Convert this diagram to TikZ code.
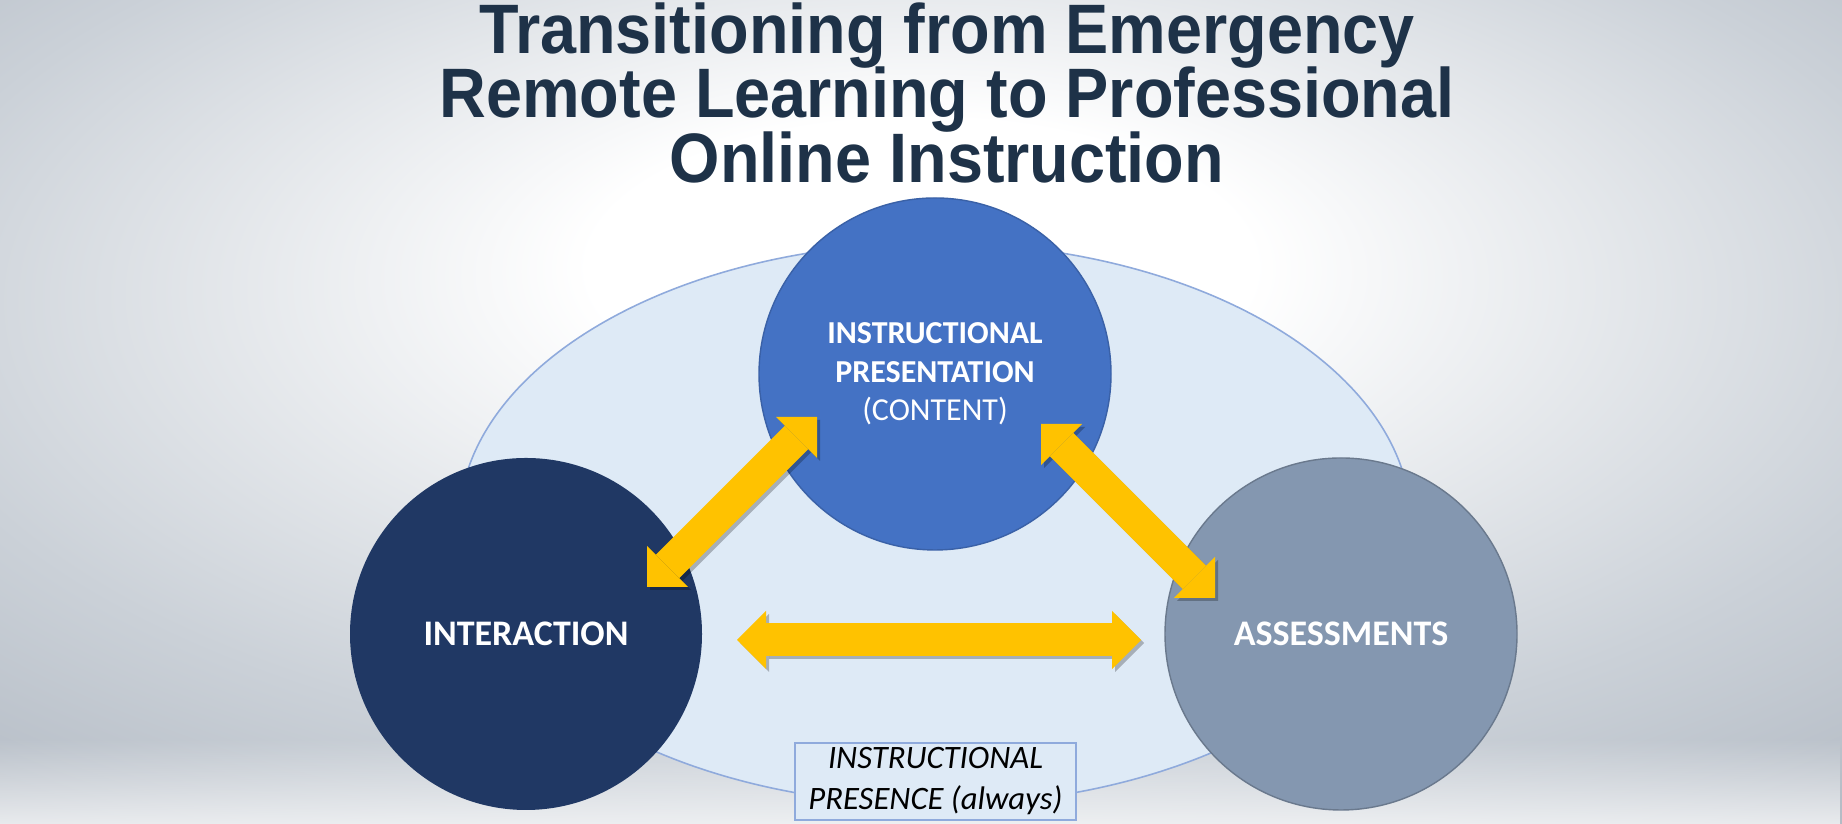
\documentclass[tikz,border=0pt]{standalone}
\usepackage{fontspec}
\setmainfont{Carlito}
\newfontfamily\titlefont{Liberation Sans}
\usetikzlibrary{arrows.meta,fadings}

\definecolor{titleblue}{RGB}{30,50,72}
\definecolor{bgmid}{RGB}{203,209,216}
\definecolor{bgedge}{RGB}{156,165,177}
\definecolor{ovalfill}{RGB}{222,234,246}
\definecolor{ovalline}{RGB}{143,170,220}
\definecolor{presblue}{RGB}{68,114,196}
\definecolor{interblue}{RGB}{32,56,100}
\definecolor{assessgray}{RGB}{132,151,176}
\definecolor{arrowgold}{RGB}{255,194,0}

\newcommand\tightlines{\lineskiplimit=-50pt\relax}

\pgfdeclareradialshading{backdrop}{\pgfpoint{0bp}{10bp}}{color(0bp)=(white); color(9bp)=(white); color(28bp)=(bgmid); color(50bp)=(bgedge); color(75bp)=(bgedge)}

\begin{document}
\begin{tikzpicture}[
	topic/.style={circle, minimum size=3.52cm, inner sep=0pt, text=white, align=center, font=\fontsize{10.24pt}{12pt}\selectfont\bfseries},
	goldarrow/.style={line width=0.33cm, arrowgold, {Triangle[width=0.58cm,length=0.29cm,line width=0pt]}-{Triangle[width=0.58cm,length=0.29cm,line width=0pt]}},
	goldshadow/.style={goldarrow, black, opacity=0.25, transform canvas={shift={(0.03,-0.03)}}}
	]
	\useasboundingbox (0,0) rectangle (18.42,8.24);
	\shade[shading=backdrop] (0,0) rectangle (18.42,8.24);
	\fill[white, opacity=0.7, path fading=north] (0,0) rectangle (18.42,0.85);
	
	\draw[ovalline, fill=ovalfill, line width=0.45pt] (9.35,3.00) ellipse [x radius=4.76, y radius=2.81];
	
	\node[anchor=north, inner sep=0pt, xscale=0.925, align=center, text=titleblue, font={\titlefont\bfseries\fontsize{19.92pt}{18.3pt}\selectfont\tightlines}] (title) at (9.47,8.22) {Transitioning from Emergency\\Remote Learning to Professional\\Online Instruction};
	
	\node[topic, fill=presblue, draw=presblue!85!black, line width=0.4pt, font=\fontsize{9.1pt}{10.9pt}\selectfont] (presentation) at (9.35,4.50) {\textbf{INSTRUCTIONAL}\\\textbf{PRESENTATION}\\(CONTENT)};
	\node[topic, fill=interblue] (interaction) at (5.26,1.90) {INTERACTION};
	\node[topic, fill=assessgray, draw=assessgray!80!black, line width=0.4pt] (assessments) at (13.41,1.90) {ASSESSMENTS};
	
	\coordinate (ip1) at (6.47,2.37);
	\coordinate (ip2) at (8.17,4.07);
	\coordinate (pa1) at (10.41,4.00);
	\coordinate (pa2) at (12.15,2.26);
	\coordinate (ia1) at (7.37,1.84);
	\coordinate (ia2) at (11.41,1.84);
	
	\draw[goldshadow] (ip1) -- (ip2);
	\draw[goldshadow] (pa1) -- (pa2);
	\draw[goldshadow] (ia1) -- (ia2);
	\draw[goldarrow] (ip1) -- (ip2);
	\draw[goldarrow] (pa1) -- (pa2);
	\draw[goldarrow] (ia1) -- (ia2);
	
	\node[draw=ovalline, fill=ovalfill, line width=0.5pt, minimum width=2.81cm, minimum height=0.77cm, inner sep=0pt, align=center, font=\fontsize{9.3pt}{11.67pt}\selectfont\itshape] (presence) at (9.355,0.425) {INSTRUCTIONAL\\PRESENCE (always)};
\end{tikzpicture}
\end{document}
